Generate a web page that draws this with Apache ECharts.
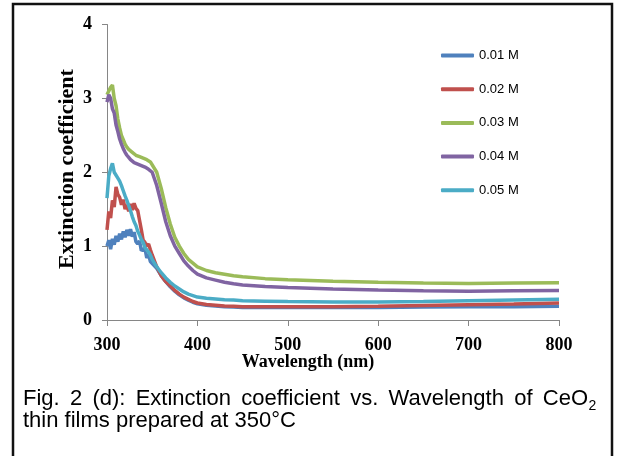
<!DOCTYPE html>
<html>
<head>
<meta charset="utf-8">
<script src="https://cdn.jsdelivr.net/npm/echarts@6/dist/echarts.min.js"></script>
<style>
  html, body { margin: 0; padding: 0; background: #fff; }
  #chart { width: 618px; height: 456px; }
</style>
</head>
<body>
<div id="chart"></div>
<script>
// wavelength grid (nm)
const wavelength = [300, 302, 304, 306, 308, 310, 312, 314, 316, 318, 320, 322, 324, 326, 328, 330,
  332, 334, 336, 338, 340, 342, 344, 346, 348, 350, 355, 360, 365, 370, 375, 380, 385, 390, 395,
  400, 410, 420, 430, 440, 450, 475, 500, 550, 600, 650, 700, 750, 800];

// extinction coefficient for each molarity
const k001 = [1.00, 1.08, 0.96, 1.10, 1.02, 1.14, 1.06, 1.17, 1.09, 1.20, 1.12, 1.22, 1.14, 1.23, 1.13, 1.19,
  1.06, 1.03, 1.07, 0.94, 0.93, 0.97, 0.84, 0.89, 0.79, 0.78, 0.70, 0.60, 0.52, 0.45, 0.39, 0.34, 0.30, 0.27, 0.24,
  0.22, 0.20, 0.19, 0.18, 0.175, 0.17, 0.17, 0.17, 0.17, 0.17, 0.175, 0.18, 0.18, 0.185];
const k002 = [1.22, 1.47, 1.38, 1.62, 1.53, 1.80, 1.70, 1.66, 1.56, 1.63, 1.50, 1.56, 1.47, 1.57, 1.49, 1.58,
  1.51, 1.48, 1.35, 1.22, 1.08, 1.05, 1.00, 1.03, 0.95, 0.88, 0.72, 0.60, 0.52, 0.46, 0.40, 0.35, 0.31, 0.28, 0.25,
  0.23, 0.21, 0.20, 0.19, 0.185, 0.18, 0.18, 0.18, 0.18, 0.185, 0.195, 0.205, 0.215, 0.23];
const k003 = [3.05, 3.10, 3.15, 3.18, 3.00, 2.90, 2.72, 2.60, 2.50, 2.44, 2.38, 2.34, 2.31, 2.29, 2.27, 2.25,
  2.23, 2.22, 2.21, 2.20, 2.19, 2.18, 2.17, 2.15, 2.14, 2.12, 2.00, 1.78, 1.52, 1.30, 1.12, 1.00, 0.90, 0.82, 0.77,
  0.72, 0.67, 0.64, 0.62, 0.60, 0.585, 0.56, 0.545, 0.525, 0.51, 0.50, 0.495, 0.50, 0.505];
const k004 = [2.95, 3.05, 3.00, 2.86, 2.80, 2.64, 2.55, 2.45, 2.38, 2.32, 2.27, 2.23, 2.20, 2.17, 2.15, 2.13,
  2.12, 2.11, 2.10, 2.09, 2.08, 2.07, 2.06, 2.04, 2.03, 2.00, 1.82, 1.58, 1.33, 1.14, 1.00, 0.90, 0.80, 0.73, 0.67,
  0.62, 0.57, 0.54, 0.51, 0.49, 0.475, 0.455, 0.44, 0.42, 0.405, 0.395, 0.39, 0.395, 0.40];
const k005 = [1.65, 1.95, 2.05, 2.12, 2.00, 1.98, 1.92, 1.88, 1.82, 1.75, 1.68, 1.62, 1.55, 1.48, 1.40, 1.33,
  1.28, 1.20, 1.15, 1.09, 1.05, 0.98, 0.96, 0.92, 0.88, 0.82, 0.72, 0.64, 0.57, 0.51, 0.46, 0.42, 0.38, 0.35, 0.33,
  0.31, 0.295, 0.285, 0.275, 0.27, 0.26, 0.255, 0.25, 0.245, 0.245, 0.25, 0.26, 0.27, 0.28];

const seriesNames = ['0.01 M', '0.02 M', '0.03 M', '0.04 M', '0.05 M'];
const seriesValues = [k001, k002, k003, k004, k005];
const colors = ['#4F81BD', '#C0504D', '#9BBB59', '#8064A2', '#4BACC6'];

const xTicks = [300, 400, 500, 600, 700, 800];
const yTicks = [0, 1, 2, 3, 4];

const captionLine1 = ['Fig.', '2', '(d):', 'Extinction', 'coefficient', 'vs.', 'Wavelength', 'of', 'CeO'];
const captionLine2 = 'thin films prepared at 350°C';

const chart = echarts.init(document.getElementById('chart'));

// justify the first caption line between two edges
const capFont = '22px "Liberation Sans", Arial, sans-serif';
const ctx = document.createElement('canvas').getContext('2d');
ctx.font = capFont;
const capLeft = 23, capRight = 588;
const widths = captionLine1.map(w => ctx.measureText(w).width);
const total = widths.reduce((a, b) => a + b, 0);
const gap = (capRight - capLeft - total) / (captionLine1.length - 1);
const captionTexts = [];
let cx = capLeft;
captionLine1.forEach((w, i) => {
  captionTexts.push({
    type: 'text', left: cx, top: 388,
    style: { text: w, font: capFont, fill: '#000' }
  });
  cx += widths[i] + gap;
});
captionTexts.push({
  type: 'text', left: cx - gap + 0.5, top: 399,
  style: { text: '2', font: '14px "Liberation Sans", Arial, sans-serif', fill: '#000' }
});
captionTexts.push({
  type: 'text', left: capLeft, top: 410,
  style: { text: captionLine2, font: capFont, fill: '#000' }
});

const option = {
  backgroundColor: '#fff',
  animation: false,
  grid: { left: 107, right: 59, top: 24.5, bottom: 136 },
  legend: {
    orient: 'vertical',
    left: 436, top: 44,
    itemWidth: 33, itemHeight: 4, itemGap: 20.7,
    icon: 'roundRect',
    data: seriesNames,
    textStyle: { fontFamily: '"Liberation Sans", Arial, sans-serif', fontSize: 13, color: '#000' }
  },
  xAxis: {
    type: 'value', min: 300, max: 800, interval: 100,
    axisLine: { show: true, lineStyle: { color: '#868686', width: 1 } },
    axisTick: { show: true, length: 6, lineStyle: { color: '#868686' } },
    splitLine: { show: false },
    axisLabel: {
      margin: 16, color: '#000', fontSize: 18, fontWeight: 'bold',
      fontFamily: '"Liberation Serif", "Times New Roman", serif',
      formatter: v => xTicks.includes(v) ? String(v) : ''
    }
  },
  yAxis: {
    type: 'value', min: 0, max: 4, interval: 1,
    axisLine: { show: true, lineStyle: { color: '#868686', width: 1 } },
    axisTick: { show: true, length: 5, lineStyle: { color: '#868686' } },
    splitLine: { show: false },
    axisLabel: {
      margin: 15, color: '#000', fontSize: 18, fontWeight: 'bold',
      fontFamily: '"Liberation Serif", "Times New Roman", serif',
      formatter: v => yTicks.includes(v) ? String(v) : ''
    }
  },
  series: seriesNames.map((name, i) => ({
    name: name,
    type: 'line',
    showSymbol: false,
    symbol: 'none',
    lineStyle: { width: 3.5, color: colors[i] },
    itemStyle: { color: colors[i] },
    data: wavelength.map((w, j) => [w, seriesValues[i][j]])
  })),
  graphic: [
    {
      type: 'rect', shape: { x: 13, y: 4, width: 599, height: 480 },
      style: { fill: 'none', stroke: '#111', lineWidth: 2.5 }
    },
    {
      type: 'text', x: 308, y: 362,
      style: {
        text: 'Wavelength (nm)', fill: '#000', align: 'center', verticalAlign: 'middle',
        font: 'bold 18px "Liberation Serif", "Times New Roman", serif'
      }
    },
    {
      type: 'text', x: 67, y: 169, rotation: Math.PI / 2,
      style: {
        text: 'Extinction coefficient', fill: '#000', align: 'center', verticalAlign: 'middle',
        font: 'bold 22px "Liberation Serif", "Times New Roman", serif'
      }
    }
  ].concat(captionTexts)
};

chart.setOption(option);
window.addEventListener('resize', () => {
  if (chart) {
    chart.resize();
  }
});
</script>
</body>
</html>
